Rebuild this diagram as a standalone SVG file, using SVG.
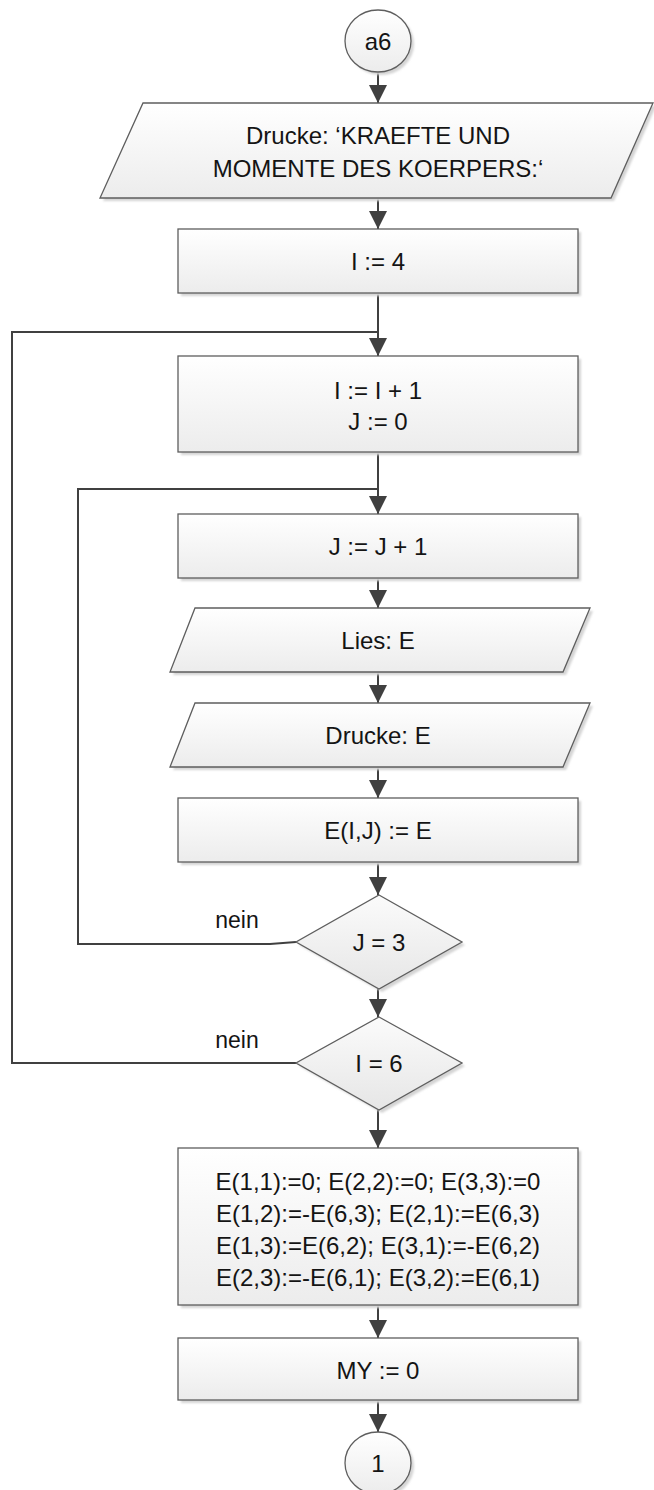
<svg xmlns="http://www.w3.org/2000/svg" width="654" height="1490" viewBox="0 0 654 1490">
  <style>
    .shape { stroke: #5e5e5e; stroke-width: 1.3; fill: url(#fillGrad); }
    .diamond { stroke: #5e5e5e; stroke-width: 1.3; fill: url(#diaGrad); }
    .shadow { fill: #d4d4d4; filter: url(#soft); }
    .lbl { font-family: "Liberation Sans", Arial, sans-serif; font-size: 24px; fill: #141414; text-anchor: middle; dominant-baseline: central; }
    .note { font-family: "Liberation Sans", Arial, sans-serif; font-size: 23px; fill: #141414; text-anchor: middle; }
    .conn { fill: none; stroke: #404040; stroke-width: 2; }
    .flow { fill: none; stroke: #404040; stroke-width: 2; marker-end: url(#arrow); }
  </style>
  <defs>
    <linearGradient id="fillGrad" x1="0" y1="0" x2="0" y2="1">
      <stop offset="0" stop-color="#ffffff"/>
      <stop offset="1" stop-color="#ececec"/>
    </linearGradient>
    <linearGradient id="diaGrad" x1="0" y1="0" x2="0" y2="1">
      <stop offset="0" stop-color="#fbfbfb"/>
      <stop offset="1" stop-color="#e6e6e6"/>
    </linearGradient>
    <filter id="soft" x="-10%" y="-10%" width="120%" height="120%">
      <feGaussianBlur stdDeviation="1"/>
    </filter>
    <marker id="arrow" markerUnits="userSpaceOnUse" markerWidth="18" markerHeight="18" viewBox="0 0 16 16" refX="16" refY="8" orient="auto">
      <path d="M0,0 L16,8 L0,16 z" fill="#404040"/>
    </marker>
  </defs>

  <!-- connectors -->
  <g id="connectors">
    <line class="flow" x1="378" y1="72" x2="378" y2="103"/>
    <line class="flow" x1="378" y1="198" x2="378" y2="229"/>
    <line class="flow" x1="378" y1="293" x2="378" y2="356"/>
    <line class="flow" x1="378" y1="452" x2="378" y2="514"/>
    <line class="flow" x1="378" y1="578" x2="378" y2="608"/>
    <line class="flow" x1="378" y1="672" x2="378" y2="703"/>
    <line class="flow" x1="378" y1="767" x2="378" y2="798"/>
    <line class="flow" x1="378" y1="862" x2="378" y2="895"/>
    <line class="flow" x1="378" y1="989" x2="378" y2="1017"/>
    <line class="flow" x1="378" y1="1110" x2="378" y2="1148"/>
    <line class="flow" x1="378" y1="1305" x2="378" y2="1338"/>
    <line class="flow" x1="378" y1="1400" x2="378" y2="1432"/>
    <!-- inner loop: J = 3 nein -->
    <path class="conn" d="M296,942 L270,944 L78,944 L78,489 L378,489"/>
    <!-- outer loop: I = 6 nein -->
    <path class="conn" d="M296,1063 L12,1063 L12,332 L378,332"/>
    <text class="note" x="237" y="928">nein</text>
    <text class="note" x="237" y="1048">nein</text>
  </g>

  <g id="start_a6">
    <ellipse class="shadow" cx="381" cy="44" rx="33" ry="31"/>
    <ellipse class="shape" cx="378" cy="41" rx="33" ry="31"/>
    <text class="lbl" x="378" y="41">a6</text>
  </g>

  <g id="print_header">
    <polygon class="shadow" points="146,106 656,106 614,201 103,201"/>
    <polygon class="shape" points="143,103 653,103 611,198 100,198"/>
    <text class="lbl" x="378" y="135">Drucke: ‘KRAEFTE UND</text>
    <text class="lbl" x="378" y="168">MOMENTE DES KOERPERS:‘</text>
  </g>

  <g id="init_i">
    <rect class="shadow" x="181" y="232" width="400" height="64"/>
    <rect class="shape" x="178" y="229" width="400" height="64"/>
    <text class="lbl" x="378" y="261">I := 4</text>
  </g>

  <g id="inc_i">
    <rect class="shadow" x="181" y="359" width="400" height="96"/>
    <rect class="shape" x="178" y="356" width="400" height="96"/>
    <text class="lbl" x="378" y="390">I := I + 1</text>
    <text class="lbl" x="378" y="421">J := 0</text>
  </g>

  <g id="inc_j">
    <rect class="shadow" x="181" y="517" width="400" height="64"/>
    <rect class="shape" x="178" y="514" width="400" height="64"/>
    <text class="lbl" x="378" y="546">J := J + 1</text>
  </g>

  <g id="read_e">
    <polygon class="shadow" points="198,611 593,611 566,675 173,675"/>
    <polygon class="shape" points="195,608 590,608 563,672 170,672"/>
    <text class="lbl" x="378" y="640">Lies: E</text>
  </g>

  <g id="print_e">
    <polygon class="shadow" points="198,706 593,706 566,770 173,770"/>
    <polygon class="shape" points="195,703 590,703 563,767 170,767"/>
    <text class="lbl" x="378" y="735">Drucke: E</text>
  </g>

  <g id="store_e">
    <rect class="shadow" x="181" y="801" width="400" height="64"/>
    <rect class="shape" x="178" y="798" width="400" height="64"/>
    <text class="lbl" x="378" y="830">E(I,J) := E</text>
  </g>

  <g id="check_j">
    <polygon class="shadow" points="382,898 465,945 382,992 299,945"/>
    <polygon class="diamond" points="379,895 462,942 379,989 296,942"/>
    <text class="lbl" x="379" y="942">J = 3</text>
  </g>

  <g id="check_i">
    <polygon class="shadow" points="382,1020 465,1066 382,1113 299,1066"/>
    <polygon class="diamond" points="379,1017 462,1063 379,1110 296,1063"/>
    <text class="lbl" x="379" y="1063">I = 6</text>
  </g>

  <g id="matrix_e">
    <rect class="shadow" x="181" y="1151" width="400" height="157"/>
    <rect class="shape" x="178" y="1148" width="400" height="157"/>
    <text class="lbl" x="378" y="1181">E(1,1):=0; E(2,2):=0; E(3,3):=0</text>
    <text class="lbl" x="378" y="1213">E(1,2):=-E(6,3); E(2,1):=E(6,3)</text>
    <text class="lbl" x="378" y="1245">E(1,3):=E(6,2); E(3,1):=-E(6,2)</text>
    <text class="lbl" x="378" y="1277">E(2,3):=-E(6,1); E(3,2):=E(6,1)</text>
  </g>

  <g id="init_my">
    <rect class="shadow" x="181" y="1341" width="400" height="62"/>
    <rect class="shape" x="178" y="1338" width="400" height="62"/>
    <text class="lbl" x="378" y="1370">MY := 0</text>
  </g>

  <g id="end_1">
    <ellipse class="shadow" cx="381" cy="1466" rx="33" ry="31"/>
    <ellipse class="shape" cx="378" cy="1463" rx="33" ry="31"/>
    <text class="lbl" x="378" y="1463">1</text>
  </g>
</svg>
